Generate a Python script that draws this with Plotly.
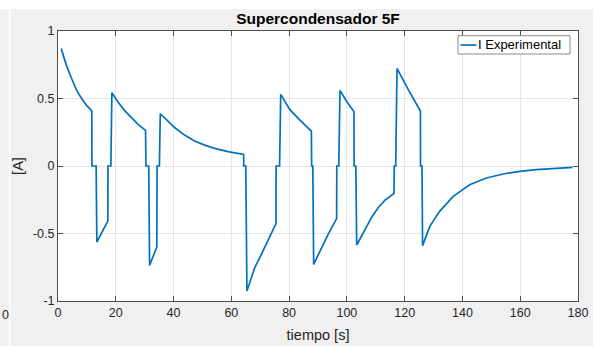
import plotly.graph_objects as go

# ---------------- data ----------------
tiempo = [
    1.1, 2.8, 4.6, 6.3, 8.0, 9.8, 11.5, 11.7,
    11.75, 13.2, 13.45,
    17.25, 17.3, 18.3, 18.65,
    20.7, 23.0, 25.35, 27.7, 30.3,
    30.45, 31.4, 31.7,
    34.2, 34.3, 35.1, 35.4,
    38.6, 40.35, 43.8, 47.3, 50.75, 54.2, 58.8, 64.25,
    64.3, 65.0, 65.4,
    68.1, 70.4, 72.7, 75.45,
    75.5, 76.7, 77.1,
    80.2, 83.65, 84.8, 87.7,
    87.8, 88.2, 88.5,
    90.6, 93.5, 96.45,
    96.5, 97.2, 97.6,
    100.0, 102.45,
    102.5, 103.1, 103.4,
    106.2, 108.5, 110.8, 113.1, 116.3,
    116.4, 116.9, 117.35,
    121.2, 125.45,
    125.5, 126.0, 126.2,
    128.7, 132.1, 136.8, 142.5, 148.3, 154.1, 159.9, 165.6, 171.4, 178.1,
]
corriente = [
    0.871, 0.753, 0.654, 0.568, 0.506, 0.452, 0.412, 0.405,
    0.0, 0.0, -0.563,
    -0.408, 0.0, 0.0, 0.543,
    0.476, 0.412, 0.358, 0.308, 0.264,
    0.0, 0.0, -0.736,
    -0.600, 0.0, 0.0, 0.387,
    0.321, 0.285, 0.229, 0.185, 0.155, 0.131, 0.106, 0.086,
    0.0, 0.0, -0.926,
    -0.753, -0.655, -0.556, -0.427,
    0.0, 0.0, 0.531,
    0.419, 0.342, 0.318, 0.258,
    0.0, 0.0, -0.729,
    -0.630, -0.506, -0.390,
    0.0, 0.0, 0.560,
    0.476, 0.402,
    0.0, 0.0, -0.585,
    -0.469, -0.383, -0.309, -0.255, -0.203,
    0.0, 0.0, 0.723,
    0.568, 0.407,
    0.0, 0.0, -0.590,
    -0.447, -0.336, -0.225, -0.139, -0.089, -0.059, -0.040, -0.027, -0.020, -0.010,
]

x_ticks = [0, 20, 40, 60, 80, 100, 120, 140, 160, 180]
x_tick_labels = ["0", "20", "40", "60", "80", "100", "120", "140", "160", "180"]
y_ticks = [-1, -0.5, 0, 0.5, 1]
y_tick_labels = ["-1", "-0.5", "0", "0.5", "1"]

titulo = "Supercondensador 5F"
serie = "I Experimental"
x_label = "tiempo [s]"
y_label = "[A]"

# ---------------- figure ----------------
FONT = "Liberation Sans, Arial, Helvetica, sans-serif"
TXT = "#262626"
AXC = "#4d4d4d"
GRID = "#e6e6e6"
LINE_COLOR = "#0072BD"

fig = go.Figure()
fig.add_trace(go.Scatter(
    x=tiempo, y=corriente, mode="lines", name=serie,
    line=dict(color=LINE_COLOR, width=1.7), showlegend=False,
))

axis_common = dict(
    showline=True, linecolor=AXC, linewidth=1, mirror="ticks",
    ticks="inside", ticklen=5, tickwidth=1, tickcolor=AXC,
    showgrid=True, gridcolor=GRID, gridwidth=1, zeroline=False,
    tickfont=dict(family=FONT, size=12.5, color=TXT),
    automargin=False,
)

fig.update_layout(
    width=603, height=346,
    margin=dict(l=58, r=25, t=31, b=45),
    paper_bgcolor="#f0f0f0", plot_bgcolor="white",
    font=dict(family=FONT, color=TXT),
    title=dict(text="<b>" + titulo + "</b>", x=0.5, xref="paper", xanchor="center",
               y=1 - 19 / 346, yref="container", yanchor="middle",
               font=dict(family=FONT, size=15.5, color="black")),
    xaxis=dict(range=[0, 180], tickvals=x_ticks, ticktext=x_tick_labels,
               title=dict(text=x_label, font=dict(family=FONT, size=14.5, color=TXT), standoff=10),
               **axis_common),
    yaxis=dict(range=[-1, 1], tickvals=y_ticks, ticktext=y_tick_labels,
               title=dict(text=y_label, font=dict(family=FONT, size=14.5, color=TXT), standoff=5),
               **axis_common),
    showlegend=False,
)


def px_x(p):
    return (p - 58) / 520


def px_y(p):
    return (301 - p) / 270


# screenshot frame: white strips around the grey MATLAB figure panel
frame = [
    (px_x(-10), px_y(9), px_x(620), px_y(-10)),      # top white strip
    (px_x(593), px_y(400), px_x(620), px_y(-10)),    # right white strip
    (px_x(9), px_y(400), px_x(10.3), px_y(9)),       # thin white line on the left
]
for x0, y0, x1, y1 in frame:
    fig.add_shape(type="rect", xref="paper", yref="paper", x0=x0, y0=y0, x1=x1, y1=y1,
                  fillcolor="white", line=dict(width=0), layer="above")

# legend box (MATLAB style, compact)
fig.add_shape(type="rect", xref="paper", yref="paper",
              x0=px_x(458), x1=px_x(570), y0=px_y(54), y1=px_y(35.7),
              fillcolor="white", line=dict(color="#8a8a8a", width=1), layer="above")
fig.add_shape(type="line", xref="paper", yref="paper",
              x0=px_x(460.5), x1=px_x(476.5), y0=px_y(45), y1=px_y(45),
              line=dict(color=LINE_COLOR, width=1.7), layer="above")
fig.add_annotation(text=serie, xref="paper", yref="paper", x=px_x(477), y=px_y(45),
                   xanchor="left", yanchor="middle", showarrow=False, borderpad=0,
                   font=dict(family=FONT, size=13, color="black"))

# tick label of the neighbouring chart at the far left
fig.add_annotation(text="0", xref="paper", yref="paper", x=px_x(0.5), y=px_y(315.3),
                   xanchor="left", yanchor="middle", showarrow=False,
                   font=dict(family=FONT, size=12.5, color=TXT), borderpad=0)

fig.write_html("out.html")
